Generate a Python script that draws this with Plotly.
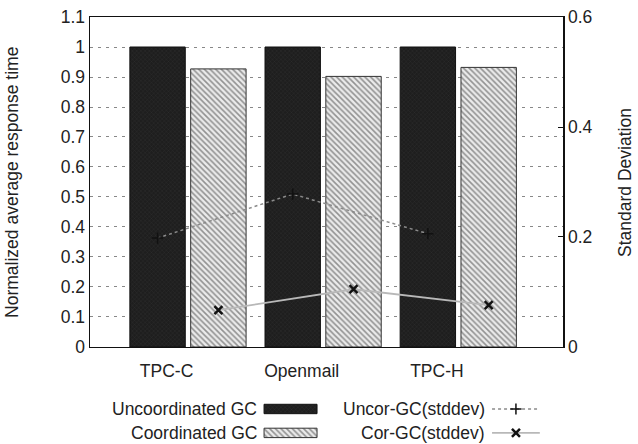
import plotly.graph_objects as go

categories = ["TPC-C", "Openmail", "TPC-H"]
uncoord_gc = [1.0, 1.0, 1.0]
coord_gc = [0.927, 0.902, 0.932]
uncor_stddev = [0.198, 0.278, 0.206]
cor_stddev = [0.067, 0.105, 0.076]
left_ticks = [round(0.1 * i, 1) for i in range(12)]
right_ticks = [0, 0.2, 0.4, 0.6]

idx = list(range(len(categories)))
BAR_W = 0.41
OFF = 0.45
FONT = "Liberation Sans, Arial, sans-serif"
TXT = "#222"
FS = 17.5

dark_marker = dict(color="#242424", line=dict(color="#111", width=1),
                   pattern=dict(shape="x", fgcolor="#3c3c3c", bgcolor="#1e1e1e", size=3, solidity=0.3))
hatch_marker = dict(color="white", line=dict(color="#333", width=1),
                    pattern=dict(shape="\\", fgcolor="#3a3a3a", bgcolor="#ebebeb", size=4, solidity=0.4))
uncor_line = dict(color="#8a8a8a", width=1.5, dash="dot")
cor_line = dict(color="#b8b8b8", width=1.8)
plus_marker = dict(symbol="cross-thin", size=8, line=dict(color="#111", width=1.5))
x_marker = dict(symbol="x-thin", size=8, line=dict(color="#111", width=2.5))

fig = go.Figure()

fig.add_trace(go.Bar(x=idx, y=uncoord_gc, width=BAR_W, name="Uncoordinated GC",
                     marker=dark_marker, showlegend=False, xaxis="x", yaxis="y"))
fig.add_trace(go.Bar(x=[i + OFF for i in idx], y=coord_gc, width=BAR_W, name="Coordinated GC",
                     marker=hatch_marker, showlegend=False, xaxis="x", yaxis="y"))

fig.add_trace(go.Scatter(x=idx, y=uncor_stddev, mode="lines+markers", name="Uncor-GC(stddev)",
                         line=uncor_line, marker=plus_marker, showlegend=False,
                         xaxis="x", yaxis="y2"))
fig.add_trace(go.Scatter(x=[i + OFF for i in idx], y=cor_stddev, mode="lines+markers",
                         name="Cor-GC(stddev)", line=cor_line, marker=x_marker,
                         showlegend=False, xaxis="x", yaxis="y2"))

# legend keys drawn on a hidden overlay axis (paper-like 0..1 coordinates)
leg_bar_x = 0.424
leg_bar_w = 0.112
leg_rows = [0.082, 0.026]
leg_h = 0.022
for row, mk in zip(leg_rows, [dark_marker, hatch_marker]):
    fig.add_trace(go.Bar(x=[leg_bar_x], y=[leg_h], base=[row - leg_h / 2], width=[leg_bar_w],
                         marker=mk, showlegend=False, hoverinfo="skip",
                         xaxis="x3", yaxis="y3"))
lx0, lx1 = 0.85, 0.951
lxm = (lx0 + lx1) / 2
for row, ln, mk in zip(leg_rows, [uncor_line, cor_line], [plus_marker, x_marker]):
    fig.add_trace(go.Scatter(x=[lx0, lxm, lx1], y=[row] * 3, mode="lines", line=ln,
                             showlegend=False, hoverinfo="skip", xaxis="x3", yaxis="y3"))
    fig.add_trace(go.Scatter(x=[lxm], y=[row], mode="markers", marker=mk,
                             showlegend=False, hoverinfo="skip", xaxis="x3", yaxis="y3"))

main_bottom = 0.2272
tf = dict(family=FONT, size=FS, color=TXT)

fig.update_layout(
    width=638, height=444,
    margin=dict(l=90, r=75, t=17, b=0, autoexpand=False),
    paper_bgcolor="white", plot_bgcolor="rgba(0,0,0,0)",
    barmode="overlay", bargap=0,
    font=tf,
    showlegend=False,
    xaxis=dict(range=[-0.5, 3.0], tickmode="array", tickvals=idx, ticktext=categories,
               ticklabelshift=9, ticklabelstandoff=8, ticks="",
               showline=True, linecolor="#111", linewidth=1.5, mirror=True,
               showgrid=False, zeroline=False, domain=[0, 1], anchor="y",
               automargin=False, tickfont=tf),
    yaxis=dict(range=[0, 1.1], tickmode="array", tickvals=left_ticks,
               ticktext=[("%g" % v) for v in left_ticks],
               showline=True, linecolor="#111", linewidth=1.5, mirror=True,
               ticks="", showgrid=True, gridcolor="#888", gridwidth=1, griddash="3px,5px",
               zeroline=False, domain=[main_bottom, 1], anchor="x",
               automargin=False, tickfont=tf),
    yaxis2=dict(range=[0, 0.6], tickmode="array", tickvals=right_ticks,
                ticktext=[("%g" % v) for v in right_ticks],
                overlaying="y", side="right", anchor="x",
                showgrid=False, zeroline=False, showline=True, linecolor="#111", linewidth=1.5,
                ticks="inside", ticklen=5, tickcolor="#111",
                automargin=False, tickfont=tf),
    xaxis3=dict(range=[0, 1], domain=[0, 1], anchor="y3", visible=False, fixedrange=True,
                automargin=False),
    yaxis3=dict(range=[0, 1], domain=[0, 1], anchor="x3", visible=False, fixedrange=True,
                automargin=False),
    annotations=[
        dict(text="Normalized average response time", textangle=-90, xref="paper", yref="paper",
             x=-0.165, y=main_bottom + (1 - main_bottom) / 2, xanchor="center", yanchor="middle",
             showarrow=False, font=tf),
        dict(text="Standard Deviation", textangle=-90, xref="paper", yref="paper",
             x=1.131, y=main_bottom + (1 - main_bottom) / 2, xanchor="center", yanchor="middle",
             showarrow=False, font=tf),
        dict(text="Uncoordinated GC", xref="paper", yref="paper", x=0.357, y=leg_rows[0],
             xanchor="right", yanchor="middle", showarrow=False, font=tf),
        dict(text="Coordinated GC", xref="paper", yref="paper", x=0.357, y=leg_rows[1],
             xanchor="right", yanchor="middle", showarrow=False, font=tf),
        dict(text="Uncor-GC(stddev)", xref="paper", yref="paper", x=0.84, y=leg_rows[0],
             xanchor="right", yanchor="middle", showarrow=False, font=tf),
        dict(text="Cor-GC(stddev)", xref="paper", yref="paper", x=0.84, y=leg_rows[1],
             xanchor="right", yanchor="middle", showarrow=False, font=tf),
    ],
)

fig.write_html("out.html", config={"displayModeBar": False, "staticPlot": True},
               post_script="document.body.style.margin='0';document.body.style.padding='0';"
                           "document.documentElement.style.overflow='hidden';")
